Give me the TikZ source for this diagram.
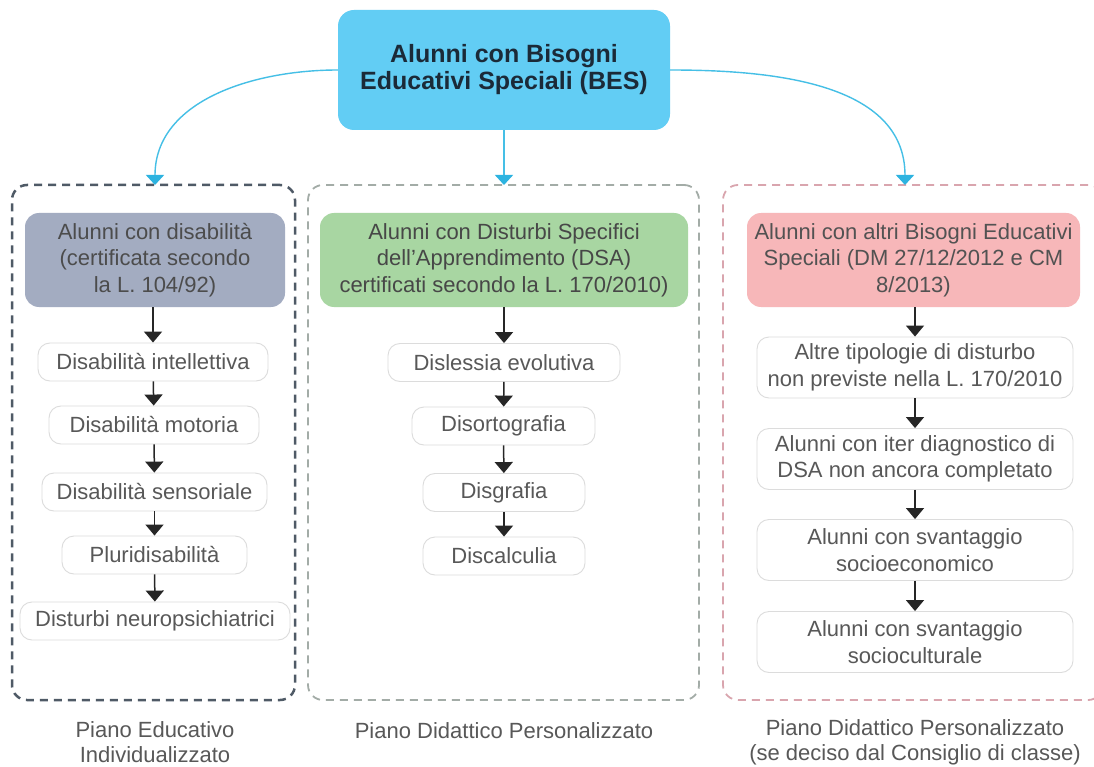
\documentclass[tikz,border=0pt]{standalone}
\usepackage{fontspec}
\setmainfont{Liberation Sans}
\usetikzlibrary{arrows.meta}
\definecolor{titlefill}{HTML}{62CDF4}
\definecolor{titletext}{HTML}{1B2A38}
\definecolor{grayhdr}{HTML}{A3ACC1}
\definecolor{greenhdr}{HTML}{A8D6A2}
\definecolor{pinkhdr}{HTML}{F7B7B9}
\definecolor{itemline}{HTML}{DCDCDC}
\definecolor{txtgray}{HTML}{585858}
\definecolor{dashdark}{HTML}{4F5A66}
\definecolor{dashmid}{HTML}{A3ACA7}
\definecolor{dashpink}{HTML}{D9A5AE}
\definecolor{cyanline}{HTML}{45BFE6}
\definecolor{cyantip}{HTML}{2DB3E0}
\begin{document}
\begin{tikzpicture}[x=1pt,y=-1pt,
  txt/.style={font=\fontsize{22}{26.5}\selectfont, text=txtgray, align=center, inner sep=0pt},
  titlebox/.style={fill=titlefill, rounded corners=16pt, minimum width=332pt, minimum height=120pt,
     font=\bfseries\fontsize{25}{27}\selectfont, text=titletext, align=center, inner sep=0pt},
  hdr/.style={txt, rounded corners=14pt, minimum height=94pt},
  itembox/.style={txt, draw=itemline, fill=white, line width=0.9pt, rounded corners=12pt, minimum height=38pt},
  itembig/.style={itembox, minimum height=61pt},
  dbox/.style={line width=2.2pt, dash pattern=on 8pt off 6pt, rounded corners=15pt, minimum height=515pt, inner sep=0pt},
  blk/.style={-{Triangle[width=18pt,length=11pt]}, line width=1.5pt, black!85},
  cy/.style={-{Triangle[width=18pt,length=10pt,color=cyantip]}, line width=1.4pt, cyanline},
  foot/.style={txt, font=\fontsize{22}{25}\selectfont}
]
\useasboundingbox (0,0) rectangle (1094,767);
\fill[white] (0,0) rectangle (1094,767);

% group containers
\node[dbox, draw=dashdark, line width=2.5pt, minimum width=283pt] (g1) at (153.5,442.5) {};
\node[dbox, draw=dashmid, line width=1.8pt, minimum width=391pt] (g2) at (503.5,442.5) {};
\node[dbox, draw=dashpink, line width=1.8pt, minimum width=380pt] (g3) at (913,442.5) {};

\coordinate (c1) at (155,185);
\coordinate (c2) at (504,185);
\coordinate (c3) at (905,185);

% title
\node[titlebox] (bes) at (504,70) {Alunni con Bisogni\\Educativi Speciali (BES)};

% headers
\node[hdr, fill=grayhdr, minimum width=260pt, text=black!70] (h1) at (155,260) {Alunni con disabilità\\(certificata secondo\\la L. 104/92)};
\node[hdr, fill=greenhdr, minimum width=368pt, text=black!72] (h2) at (504,260) {Alunni con Disturbi Specifici\\dell’Apprendimento (DSA)\\certificati secondo la L. 170/2010)};
\node[hdr, fill=pinkhdr, minimum width=333pt, text=black!68] (h3) at (913.5,260) {Alunni con altri Bisogni Educativi\\Speciali (DM 27/12/2012 e CM\\8/2013)};

% left column
\node[itembox, minimum width=230pt] (a1) at (153,362) {Disabilità intellettiva};
\node[itembox, minimum width=210pt] (a2) at (154,425) {Disabilità motoria};
\node[itembox, minimum width=225pt] (a3) at (154.5,492) {Disabilità sensoriale};
\node[itembox, minimum width=185pt] (a4) at (154.5,555) {Pluridisabilità};
\node[itembox, minimum width=270pt] (a5) at (155,621) {Disturbi neuropsichiatrici};

% middle column
\node[itembox, minimum width=232pt] (b1) at (504,362.5) {Dislessia evolutiva};
\node[itembox, minimum width=183pt] (b2) at (503.5,426) {Disortografia};
\node[itembox, minimum width=162pt] (b3) at (504,492.5) {Disgrafia};
\node[itembox, minimum width=162pt] (b4) at (504,556) {Discalculia};

% right column
\node[itembig, minimum width=316pt] (r1) at (915,367.5) {Altre tipologie di disturbo\\non previste nella L. 170/2010};
\node[itembig, minimum width=316pt] (r2) at (915,459) {Alunni con iter diagnostico di\\DSA non ancora completato};
\node[itembig, minimum width=316pt] (r3) at (915,550) {Alunni con svantaggio\\socioeconomico};
\node[itembig, minimum width=316pt] (r4) at (915,642) {Alunni con svantaggio\\socioculturale};

% footers
\node[foot] (f1) at (155,742) {Piano Educativo\\Individualizzato};
\node[foot] (f2) at (504,731) {Piano Didattico Personalizzato};
\node[foot] (f3) at (915,742) {Piano Didattico Personalizzato\\(se deciso dal Consiglio di classe)};

% cyan connectors
\draw[cy] (bes.west) to[out=180,in=90] (c1);
\draw[cy] (bes.south) -- (c2);
\draw[cy] (bes.east) to[out=0,in=90] (c3);

% black arrows
\draw[blk] (h1.south -| a1.north) -- (a1.north);
\draw[blk] (a1) -- (a2);
\draw[blk] (a2) -- (a3);
\draw[blk] (a3) -- (a4);
\draw[blk] (a4) -- (a5);
\draw[blk] (h2) -- (b1);
\draw[blk] (b1) -- (b2);
\draw[blk] (b2) -- (b3);
\draw[blk] (b3) -- (b4);
\draw[blk] (h3.south -| r1.north) -- (r1.north);
\draw[blk] (r1) -- (r2);
\draw[blk] (r2) -- (r3);
\draw[blk] (r3) -- (r4);
\end{tikzpicture}
\end{document}
